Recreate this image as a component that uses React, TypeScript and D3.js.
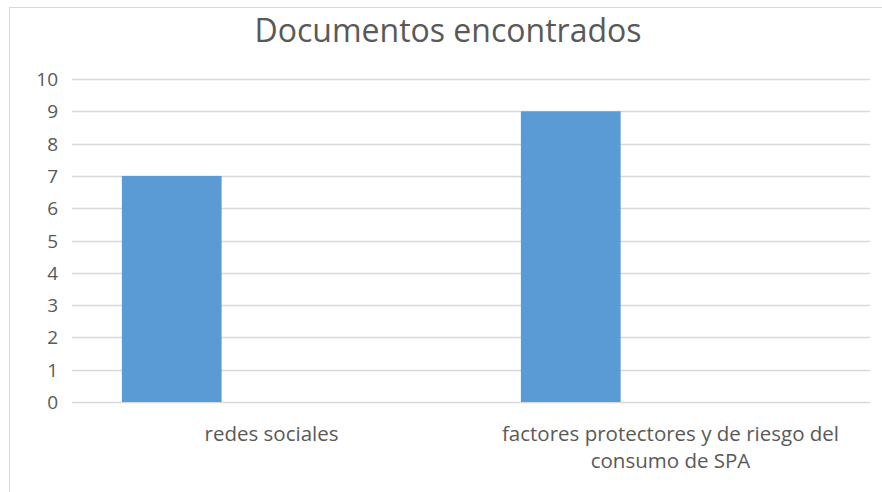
import React, { useRef, useEffect } from "react";
import * as d3 from "d3";

const categories = ["redes sociales", "factores protectores y de riesgo del consumo de SPA"];
const values = [7, 9];
// Excel leaves room for three series per category; only the first one has data
const slots = ["serie1", "serie2", "serie3"];
const yTicks = [0, 1, 2, 3, 4, 5, 6, 7, 8, 9, 10];
const title = "Documentos encontrados";

const W = 882;
const H = 492;
const PLOT = { LEFT: 72, RIGHT: 870, TOP: 79, BOTTOM: 402 };
const FONT = "'Open Sans', 'Noto Sans', sans-serif";
const TEXT = "#595959";

const drawChart = (element: SVGSVGElement) => {
  const svg = d3.select(element);
  svg.selectAll("*").remove();

  svg.append("rect")
    .attr("width", W).attr("height", H).attr("fill", "#fff");

  // chart frame (runs past the right and bottom edges of the picture)
  svg.append("rect")
    .attr("x", 9.5).attr("y", 7.5)
    .attr("width", 900).attr("height", 520)
    .attr("fill", "none").attr("stroke", "#d9d9d9");

  svg.append("text")
    .attr("x", 448).attr("y", 42)
    .attr("text-anchor", "middle")
    .attr("font-family", FONT).attr("font-size", 32)
    .attr("fill", TEXT)
    .text(title);

  const y = d3.scaleLinear().domain([0, 10]).range([PLOT.BOTTOM, PLOT.TOP]);

  const x0 = d3.scaleBand<string>()
    .domain(categories)
    .range([PLOT.LEFT, PLOT.RIGHT])
    .padding(0);

  const x1 = d3.scaleBand<string>()
    .domain(slots)
    .range([0, x0.bandwidth()])
    .paddingInner(0)
    .paddingOuter(0.5);

  const grid = svg.append("g");
  grid.selectAll("line")
    .data(yTicks)
    .enter()
    .append("line")
    .attr("x1", PLOT.LEFT).attr("x2", PLOT.RIGHT)
    .attr("y1", d => Math.round(y(d)) + 0.5)
    .attr("y2", d => Math.round(y(d)) + 0.5)
    .attr("stroke", "#d9d9d9").attr("stroke-width", 1.5);

  svg.append("g").selectAll("text")
    .data(yTicks)
    .enter()
    .append("text")
    .attr("x", 58)
    .attr("y", d => y(d) + 7)
    .attr("text-anchor", "end")
    .attr("font-family", FONT).attr("font-size", 19)
    .attr("fill", TEXT)
    .text(d => d);

  svg.append("g").selectAll("rect")
    .data(values)
    .enter()
    .append("rect")
    .attr("x", (_, i) => (x0(categories[i]) ?? 0) + (x1(slots[0]) ?? 0))
    .attr("y", d => y(d))
    .attr("width", x1.bandwidth())
    .attr("height", d => y(0) - y(d))
    .attr("fill", "#5b9bd5");

  // category labels, wrapped like Excel does
  const wrapAt = 36;
  const labels = svg.append("g");
  categories.forEach(cat => {
    const words = cat.split(" ");
    const lines: string[] = [];
    let cur = "";
    words.forEach(w => {
      const next = cur ? cur + " " + w : w;
      if (next.length > wrapAt && cur) {
        lines.push(cur);
        cur = w;
      } else {
        cur = next;
      }
    });
    if (cur) lines.push(cur);
    const t = labels.append("text")
      .attr("text-anchor", "middle")
      .attr("font-family", FONT).attr("font-size", 20.5)
      .attr("fill", TEXT);
    lines.forEach((ln, i) => {
      t.append("tspan")
        .attr("x", (x0(cat) ?? 0) + x0.bandwidth() / 2)
        .attr("y", 441 + i * 27)
        .text(ln);
    });
  });
};

const App = () => {
  const ref = useRef<SVGSVGElement>(null);

  useEffect(() => {
    if (ref.current) drawChart(ref.current);
  }, []);

  return (
    <div style={{ position: "absolute", left: 0, top: 0 }}>
      <svg ref={ref} width={W} height={H} style={{ display: "block" }}></svg>
    </div>
  );
};

export default App;
